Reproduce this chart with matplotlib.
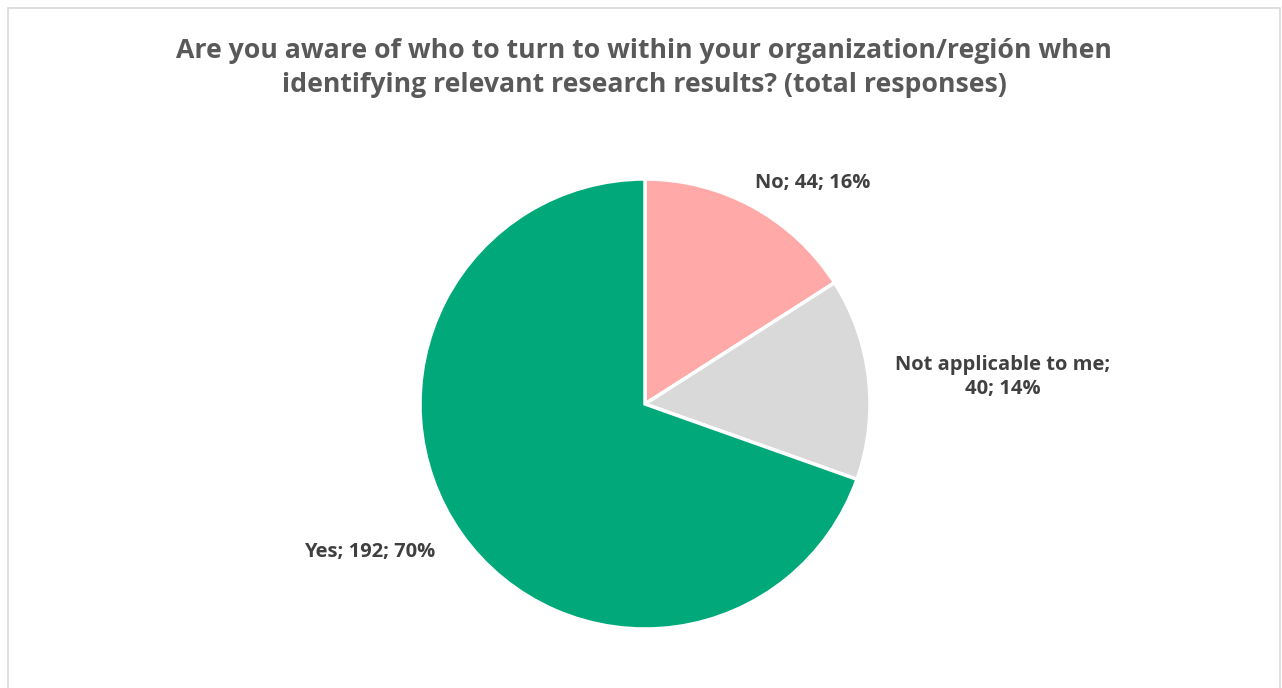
import matplotlib.pyplot as plt
from matplotlib.patches import Rectangle

# Survey answers (clockwise from 12 o'clock)
categories = ["No", "Not applicable to me", "Yes"]
responses = [44, 40, 192]
colors = ["#FFA9A9", "#D9D9D9", "#00A87A"]

title = ("Are you aware of who to turn to within your organization/región when\n"
         "identifying relevant research results? (total responses)")

plt.rcParams["font.family"] = ["Open Sans", "DejaVu Sans"]

fig = plt.figure(figsize=(12.82, 6.88), dpi=100)
ax = fig.add_axes([0, 0, 1, 1])

# chart area frame
ax.add_patch(Rectangle((7.5, -5), 1272, 685, fill=False, edgecolor="#D9D9D9", linewidth=1.2))

ax.pie(
    responses,
    colors=colors,
    startangle=90,
    counterclock=False,
    center=(645, 284),
    radius=225,
    wedgeprops={"edgecolor": "white", "linewidth": 2.5},
    frame=True,
)
ax.set_xlim(0, 1282)
ax.set_ylim(0, 688)
ax.axis("off")

total = sum(responses)
labels = [f"{c}; {v}; {round(100 * v / total)}%" for c, v in zip(categories, responses)]
labels[1] = labels[1].replace("me; ", "me;\n")

label_style = dict(fontsize=14.5, fontweight="bold", color="#404040", linespacing=1.25)
ax.text(813, 688 - 183, labels[0], ha="center", va="center", **label_style)
ax.text(1003, 688 - 377, labels[1], ha="center", va="center", **label_style)
ax.text(370, 688 - 552, labels[2], ha="center", va="center", **label_style)

ax.text(644, 688 - 68, title, ha="center", va="center", fontsize=19.2,
        fontweight="bold", color="#595959", linespacing=1.35)

fig.savefig("out.png", dpi=100)
